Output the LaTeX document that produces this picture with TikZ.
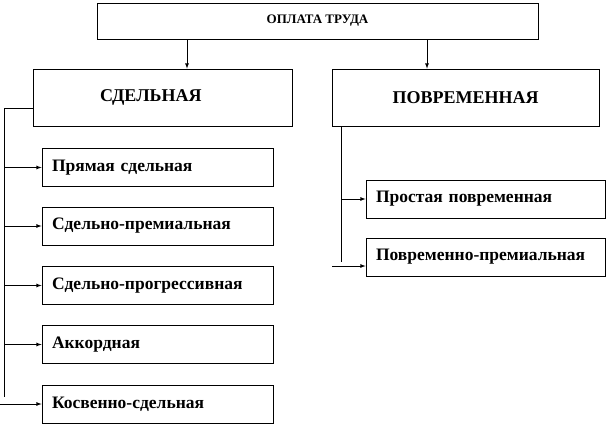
\documentclass[tikz,border=0pt]{standalone}
\usepackage{fontspec}
\setmainfont{Liberation Serif}
\usepackage{tikz}

\tikzset{
	headbox/.style={rectangle,draw,line width=0.8pt,font=\bfseries\fontsize{18}{20}\selectfont},
	subbox/.style={rectangle,draw,line width=0.8pt,minimum height=38pt,inner xsep=10pt,align=left,font=\bfseries\fontsize{17.5}{19}\selectfont}
}

\begin{document}
\begin{tikzpicture}[x=1pt,y=-1pt,>=latex,line width=0.8pt]
		\useasboundingbox (0, 0) rectangle (609, 425);

		\node[rectangle,draw,minimum width=441pt,minimum height=36pt,font=\bfseries\fontsize{13}{15}\selectfont] (pay) at (317.5, 21) { ОПЛАТА ТРУДА };
		\node[headbox,minimum width=259pt,minimum height=57pt,text width=239pt,align=left,inner xsep=10pt] (piece) at (162.5, 97.5) { \hspace*{57pt}СДЕЛЬНАЯ };
		\node[headbox,minimum width=267pt,minimum height=57pt] (time) at (465.5, 97.5) { ПОВРЕМЕННАЯ };

		\node[subbox,text width=211pt] (direct) at (157.5, 167.5) { Прямая сдельная };
		\node[subbox,text width=211pt] (bonus) at (157.5, 226) { Сдельно-премиальная };
		\node[subbox,text width=211pt] (progr) at (157.5, 285.5) { Сдельно-прогрессивная };
		\node[subbox,text width=211pt] (chord) at (157.5, 344.5) { Аккордная };
		\node[subbox,text width=211pt] (indir) at (157.5, 404) { Косвенно-сдельная };

		\node[subbox,text width=219pt] (simple) at (485.5, 199) { Простая повременная };
		\node[subbox,text width=219pt] (tbonus) at (485.5, 257) { Повременно-премиальная };

		\coordinate (lbus) at (4, 108);
		\coordinate (lend) at (0, 404);
		\coordinate (rbus) at (341, 127);
		\coordinate (rend) at (332, 266);

		\draw[->] (pay.south -| 187, 0) -- (piece.north -| 187, 0);
		\draw[->] (pay.south -| 427, 0) -- (time.north -| 427, 0);

		\draw (piece.west |- lbus) -- (lbus) -- (4, 397);
		\draw[->] (lbus |- direct.west) -- (direct.west);
		\draw[->] (lbus |- bonus.west) -- (bonus.west);
		\draw[->] (lbus |- progr.west) -- (progr.west);
		\draw[->] (lbus |- chord.west) -- (chord.west);
		\draw[->] (lend) -- (indir.west);

		\draw (rbus) -- (341, 262);
		\draw[->] (rbus |- simple.west) -- (simple.west);
		\draw[->] (rend) -- (rend -| tbonus.west);
	\end{tikzpicture}
\end{document}
